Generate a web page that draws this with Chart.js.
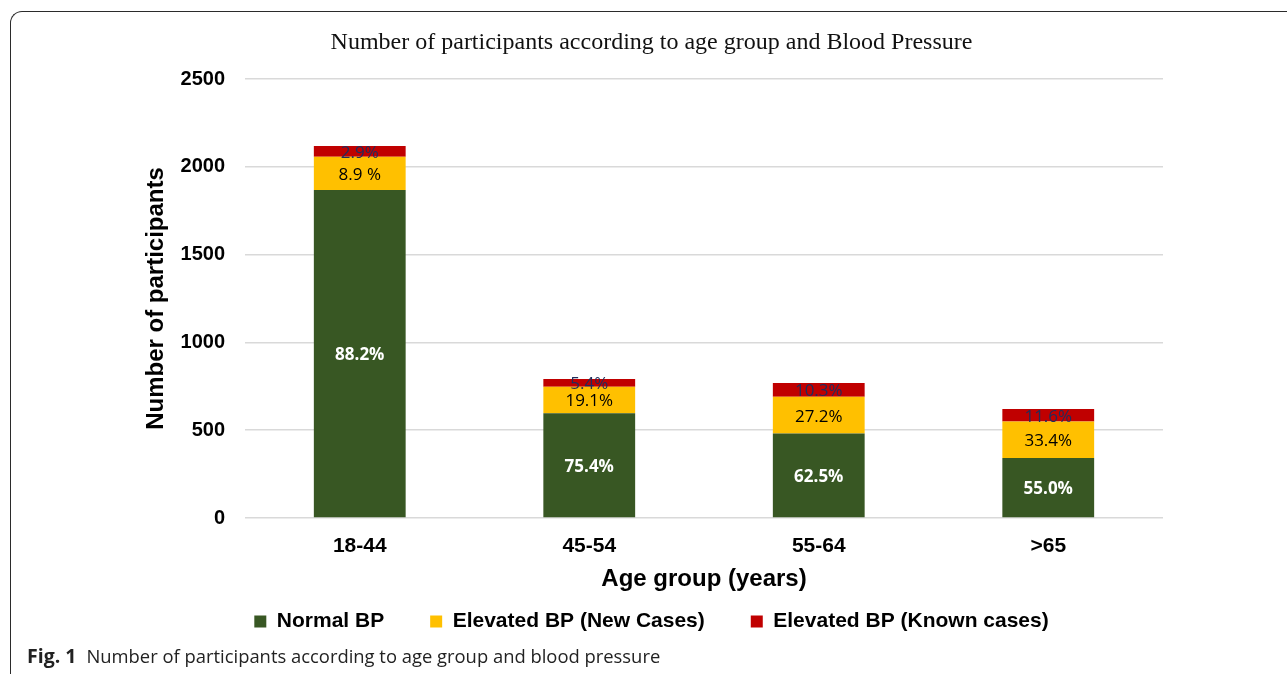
<!DOCTYPE html>
<html>
<head>
<meta charset="utf-8">
<script src="https://cdn.jsdelivr.net/npm/chart.js@4.4.0/dist/chart.umd.min.js"></script>
<style>
  html, body { margin: 0; padding: 0; background: #fff; overflow: hidden; }
  body { width: 1287px; height: 674px; position: relative; }
  #frame { position: absolute; left: 10px; top: 11px; width: 1400px; height: 800px;
           border-top: 1.5px solid #2b2b2b; border-left: 1.5px solid #2b2b2b; border-top-left-radius: 12px; }
  #wrap { position: absolute; left: 0; top: 0; width: 1287px; height: 676px; }
  #caption { position: absolute; left: 27px; top: 644px; font-family: "Open Sans", sans-serif;
             font-size: 18.4px; color: #222; white-space: nowrap; line-height: 24px; }
  #caption b { font-weight: 700; margin-right: 10px; font-size: 19.5px; }
</style>
</head>
<body>
<div id="frame"></div>
<div id="wrap"><canvas id="c"></canvas></div>
<div id="caption"><b>Fig. 1</b>Number of participants according to age group and blood pressure</div>
<script>
const categories = ['18-44', '45-54', '55-64', '>65'];
const normalBP = [1868, 597, 481, 342];
const newCases = [189, 151, 209, 207];
const knownCases = [61, 43, 79, 72];
const normalPct = ['88.2%', '75.4%', '62.5%', '55.0%'];
const newPct = ['8.9 %', '19.1%', '27.2%', '33.4%'];
const knownPct = ['2.9%', '5.4%', '10.3%', '11.6%'];
const seriesNames = ['Normal BP', 'Elevated BP (New Cases)', 'Elevated BP (Known cases)'];
const yMax = 2500;
const yStep = 500;

const labelPlugin = {
  id: 'segLabels',
  afterDatasetsDraw(chart) {
    const ctx = chart.ctx;
    chart.data.datasets.forEach((ds, di) => {
      const meta = chart.getDatasetMeta(di);
      meta.data.forEach((el, i) => {
        const txt = ds.segLabels[i];
        const y = (el.y + el.base) / 2;
        ctx.save();
        ctx.font = ds.labelFont;
        ctx.fillStyle = ds.labelColor;
        ctx.textAlign = 'center';
        ctx.textBaseline = 'middle';
        ctx.fillText(txt, el.x, y + 1.5);
        ctx.restore();
      });
    });
  }
};

new Chart(document.getElementById('c'), {
  type: 'bar',
  data: {
    labels: categories,
    datasets: [
      { label: seriesNames[0], data: normalBP, backgroundColor: '#385723', segLabels: normalPct,
        labelColor: '#ffffff', labelFont: 'bold 17px "Open Sans"' },
      { label: seriesNames[1], data: newCases, backgroundColor: '#ffc000', segLabels: newPct,
        labelColor: '#000000', labelFont: '17px "Open Sans"' },
      { label: seriesNames[2], data: knownCases, backgroundColor: '#c00000', segLabels: knownPct,
        labelColor: '#1f2d5c', labelFont: '17px "Open Sans"' }
    ]
  },
  options: {
    responsive: true,
    maintainAspectRatio: false,
    animation: false,
    datasets: { bar: { barPercentage: 0.4, categoryPercentage: 1.0 } },
    layout: { padding: { top: 12, left: 140, right: 124, bottom: 34 } },
    plugins: {
      tooltip: { enabled: false },
      title: {
        display: true,
        text: 'Number of participants according to age group and Blood Pressure',
        font: { family: '"Liberation Serif", "Times New Roman", serif', size: 24, weight: 'normal' },
        color: '#111',
        padding: { top: 16.6, bottom: 21.6 }
      },
      legend: {
        position: 'bottom',
        labels: {
          boxWidth: 12, boxHeight: 12, padding: 46, color: '#000',
          font: { family: '"Liberation Sans", Arial, sans-serif', size: 21, weight: 'bold' }
        }
      }
    },
    scales: {
      x: {
        stacked: true,
        grid: { display: false, drawTicks: false },
        border: { display: false },
        ticks: { color: '#000', padding: 16,
          font: { family: '"Liberation Sans", Arial, sans-serif', size: 21, weight: 'bold' } },
        title: { display: true, text: 'Age group (years)', color: '#000',
          font: { family: '"Liberation Sans", Arial, sans-serif', size: 24, weight: 'bold' },
          padding: { top: -10, bottom: -29 } }
      },
      y: {
        stacked: true,
        min: 0, max: yMax,
        afterFit(scale) { scale.width = 105; },
        grid: { color: '#d9d9d9', lineWidth: 1.5, drawTicks: false },
        border: { display: false },
        ticks: { stepSize: yStep, color: '#000', padding: 20,
          callback: (v) => String(v),
          font: { family: '"Liberation Sans", Arial, sans-serif', size: 20, weight: 'bold' } },
        title: { display: true, text: 'Number of participants', color: '#000',
          font: { family: '"Liberation Sans", Arial, sans-serif', size: 24, weight: 'bold' },
          padding: { top: 2, bottom: 0 } }
      }
    }
  },
  plugins: [labelPlugin]
});
</script>
</body>
</html>
